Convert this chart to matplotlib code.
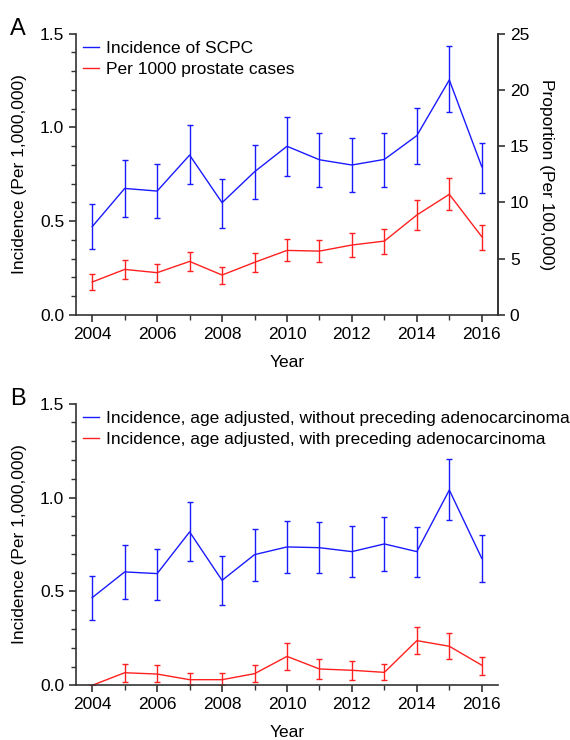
import numpy as np
import matplotlib
matplotlib.use("Agg")
import matplotlib.pyplot as plt
from matplotlib.ticker import MultipleLocator, FormatStrFormatter

plt.rcParams['font.family'] = ['Liberation Sans', 'DejaVu Sans']
plt.rcParams['font.size'] = 12.5

years = np.arange(2004, 2017)

# Panel A: incidence of SCPC (left axis, per 1,000,000)
scpc = [0.470, 0.674, 0.660, 0.852, 0.598, 0.763, 0.899, 0.827, 0.799, 0.829, 0.956, 1.253, 0.790]
scpc_hi = [0.591, 0.826, 0.802, 1.012, 0.724, 0.907, 1.057, 0.972, 0.941, 0.972, 1.105, 1.432, 0.915]
scpc_lo = [0.349, 0.521, 0.518, 0.696, 0.461, 0.616, 0.740, 0.681, 0.653, 0.681, 0.802, 1.080, 0.648]

# Panel A: per 1000 prostate cases (right axis, proportion per 100,000)
prop = [2.91, 4.03, 3.74, 4.74, 3.53, 4.66, 5.72, 5.66, 6.20, 6.55, 8.87, 10.71, 6.94]
prop_hi = [3.59, 4.89, 4.51, 5.60, 4.27, 5.49, 6.70, 6.61, 7.30, 7.65, 10.20, 12.13, 7.98]
prop_lo = [2.16, 3.17, 2.88, 3.88, 2.73, 3.77, 4.74, 4.69, 5.13, 5.40, 7.53, 9.28, 5.75]

# Panel B: age adjusted incidence
wo = [0.467, 0.604, 0.595, 0.817, 0.559, 0.696, 0.737, 0.733, 0.712, 0.753, 0.712, 1.040, 0.676]
wo_hi = [0.584, 0.746, 0.728, 0.975, 0.689, 0.834, 0.877, 0.870, 0.849, 0.895, 0.841, 1.207, 0.799]
wo_lo = [0.348, 0.460, 0.456, 0.660, 0.430, 0.554, 0.596, 0.598, 0.575, 0.611, 0.579, 0.882, 0.550]

wi = [0.0, 0.067, 0.060, 0.030, 0.030, 0.062, 0.154, 0.087, 0.080, 0.069, 0.238, 0.208, 0.107]
wi_hi = [0.0, 0.115, 0.107, 0.064, 0.064, 0.107, 0.224, 0.138, 0.128, 0.112, 0.312, 0.277, 0.153]
wi_lo = [0.0, 0.016, 0.016, 0.004, 0.004, 0.016, 0.083, 0.034, 0.030, 0.027, 0.165, 0.140, 0.057]

blue = '#1a1aff'
red = '#ff2020'
axc = '#333333'


def errs(v, lo, hi):
    v, lo, hi = np.array(v), np.array(lo), np.array(hi)
    return [v - lo, hi - v]


def style(ax, spines):
    for s in ['top', 'right', 'left', 'bottom']:
        ax.spines[s].set_visible(s in spines)
        ax.spines[s].set_color(axc)
        ax.spines[s].set_linewidth(1.2)
    ax.tick_params(colors=axc, labelcolor='black', width=1.2, length=5)
    ax.tick_params(which='minor', colors=axc, width=1.0, length=3.5)


def line_handles():
    return [plt.Line2D([], [], color=c, lw=1.0) for c in (blue, red)]


eb = dict(lw=1.0, elinewidth=1.0, capsize=2, capthick=1.0)
leg_kw = dict(loc='upper left', frameon=False, handlelength=0.9, handletextpad=0.45,
              borderaxespad=0.0, labelspacing=0.35)

fig = plt.figure(figsize=(5.7, 7.4), dpi=100)

# ---- Panel A ----
ax1 = fig.add_axes([0.1333, 0.5747, 0.7404, 0.3798])
ax1.errorbar(years, scpc, yerr=errs(scpc, scpc_lo, scpc_hi), color=blue, **eb)
ax1.set_xlim(2003.5, 2016.5)
ax1.set_ylim(0, 1.5)
ax1.yaxis.set_major_locator(MultipleLocator(0.5))
ax1.yaxis.set_minor_locator(MultipleLocator(0.1))
ax1.yaxis.set_major_formatter(FormatStrFormatter('%.1f'))
ax1.xaxis.set_major_locator(MultipleLocator(2))
ax1.xaxis.set_minor_locator(MultipleLocator(1))
ax1.set_ylabel('Incidence (Per 1,000,000)', labelpad=9)
ax1.set_xlabel('Year', labelpad=9.5)
style(ax1, ['left', 'bottom', 'right'])

ax2 = ax1.twinx()
ax2.errorbar(years, prop, yerr=errs(prop, prop_lo, prop_hi), color=red, **eb)
ax2.set_ylim(0, 25)
ax2.yaxis.set_major_locator(MultipleLocator(5))
ax2.set_ylabel('Proportion (Per 100,000)', rotation=270, labelpad=18)
style(ax2, ['right'])

ax1.legend(line_handles(), ['Incidence of SCPC', 'Per 1000 prostate cases'], **leg_kw)
ax1.set_zorder(ax2.get_zorder() + 1)
ax1.patch.set_visible(False)
fig.text(0.017, 0.953, 'A', fontsize=17)

# ---- Panel B ----
ax3 = fig.add_axes([0.1333, 0.0739, 0.7404, 0.3806])
ax3.errorbar(years, wo, yerr=errs(wo, wo_lo, wo_hi), color=blue, **eb)
ax3.errorbar(years, wi, yerr=errs(wi, wi_lo, wi_hi), color=red, **eb)
ax3.set_xlim(2003.5, 2016.5)
ax3.set_ylim(0, 1.5)
ax3.yaxis.set_major_locator(MultipleLocator(0.5))
ax3.yaxis.set_minor_locator(MultipleLocator(0.1))
ax3.yaxis.set_major_formatter(FormatStrFormatter('%.1f'))
ax3.xaxis.set_major_locator(MultipleLocator(2))
ax3.xaxis.set_minor_locator(MultipleLocator(1))
ax3.set_ylabel('Incidence (Per 1,000,000)', labelpad=9)
ax3.set_xlabel('Year', labelpad=9.5)
style(ax3, ['left', 'bottom'])
ax3.legend(line_handles(),
           ['Incidence, age adjusted, without preceding adenocarcinoma',
            'Incidence, age adjusted, with preceding adenocarcinoma'], **leg_kw)
fig.text(0.017, 0.453, 'B', fontsize=17)

fig.savefig('out.png', dpi=100)
